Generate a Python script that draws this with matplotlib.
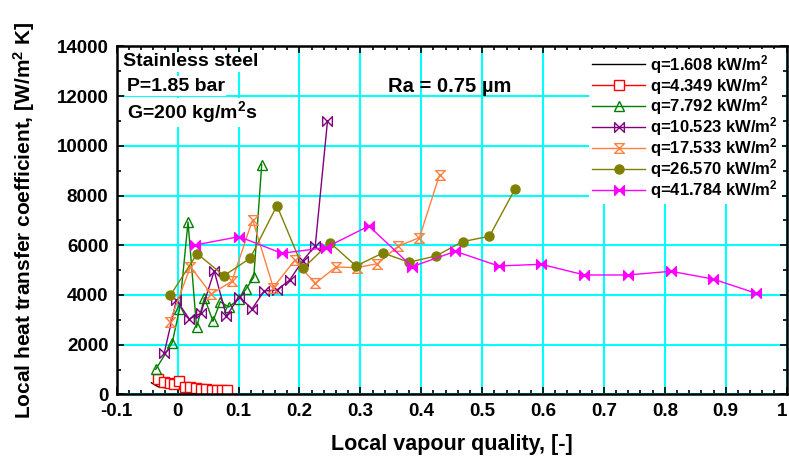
import matplotlib
matplotlib.use("Agg")
import matplotlib.pyplot as plt
from matplotlib.path import Path
from matplotlib.ticker import MultipleLocator
from matplotlib.transforms import ScaledTranslation

plt.rcParams["font.family"] = ["Liberation Sans", "DejaVu Sans"]
plt.rcParams["font.weight"] = "bold"
plt.rcParams["axes.labelweight"] = "bold"
plt.rcParams["mathtext.fontset"] = "custom"
plt.rcParams["mathtext.rm"] = "Liberation Sans:bold"
plt.rcParams["mathtext.bf"] = "Liberation Sans:bold"
plt.rcParams["mathtext.default"] = "bf"

# q = 1.608 kW/m2
x1 = [-0.043, -0.032, -0.021, -0.010, -0.001]
h1 = [470, 310, 270, 310, 258]
# q = 4.349 kW/m2
x2 = [-0.032, -0.023, -0.013, -0.006, 0.003, 0.012, 0.021, 0.030, 0.039,
      0.047, 0.056, 0.064, 0.073, 0.081]
h2 = [607, 512, 446, 418, 552, 310, 285, 258, 230, 205, 177, 177, 177, 177]
# q = 7.792 kW/m2
x3 = [-0.036, -0.009, 0.003, 0.017, 0.031, 0.044, 0.058, 0.070, 0.084,
      0.100, 0.112, 0.125, 0.138]
h3 = [1010, 2080, 3424, 6937, 2700, 3891, 2941, 3730, 3517, 3826, 4229,
      4724, 9243]
# q = 10.523 kW/m2
x4 = [-0.022, -0.002, 0.019, 0.038, 0.060, 0.080, 0.101, 0.122, 0.142,
      0.163, 0.184, 0.205, 0.226, 0.246]
h4 = [1678, 3799, 3034, 3263, 4966, 3155, 3932, 3436, 4161, 4201, 4604,
      5368, 5984, 10989]
# q = 17.533 kW/m2
x5 = [-0.013, 0.021, 0.055, 0.089, 0.123, 0.157, 0.192, 0.226, 0.260,
      0.294, 0.328, 0.362, 0.397, 0.430]
h5 = [2913, 5139, 4040, 4551, 7030, 4300, 5390, 4470, 5127, 5100, 5260,
      5960, 6307, 8829]
# q = 26.570 kW/m2
x6 = [-0.012, 0.032, 0.076, 0.119, 0.163, 0.206, 0.250, 0.293, 0.337,
      0.380, 0.424, 0.468, 0.512, 0.554]
h6 = [3987, 5662, 4777, 5476, 7594, 5074, 6105, 5167, 5690, 5316, 5569,
      6145, 6362, 8265]
# q = 41.784 kW/m2
x7 = [0.029, 0.101, 0.171, 0.243, 0.314, 0.385, 0.456, 0.527, 0.597,
      0.668, 0.739, 0.810, 0.879, 0.950]
h7 = [6012, 6346, 5677, 5904, 6776, 5140, 5757, 5167, 5235, 4805, 4805,
      4953, 4644, 4068]

labels = ["q=1.608 kW/m$^2$", "q=4.349 kW/m$^2$", "q=7.792 kW/m$^2$",
          "q=10.523 kW/m$^2$", "q=17.533 kW/m$^2$", "q=26.570 kW/m$^2$",
          "q=41.784 kW/m$^2$"]

bowtie = Path([(-1, -1), (-1, 1), (1, -1), (1, 1), (-1, -1)],
              [Path.MOVETO, Path.LINETO, Path.LINETO, Path.LINETO, Path.CLOSEPOLY])
hourglass = Path([(-1, 1), (1, 1), (-1, -1), (1, -1), (-1, 1)],
                 [Path.MOVETO, Path.LINETO, Path.LINETO, Path.LINETO, Path.CLOSEPOLY])

fig = plt.figure(figsize=(7.89, 4.63), dpi=100)
ax = fig.add_axes([0.148, 0.148, 0.849, 0.752])

ax.plot(x1, h1, color="black", lw=1, label=labels[0])
ax.plot(x2, h2, color="red", lw=1, marker="s", ms=7, mfc="white",
        mec="red", label=labels[1])
ax.plot(x3, h3, color="green", lw=1, marker="^", ms=7.5, mfc="none",
        mec="green", label=labels[2])
ax.plot(x4, h4, color="purple", lw=1, marker=bowtie, ms=7, mfc="none",
        mec="purple", label=labels[3])
ax.plot(x5, h5, color="#ff8040", lw=1, marker=hourglass, ms=7, mfc="none",
        mec="#ff8040", label=labels[4])
ax.plot(x6, h6, color="olive", lw=1, marker="o", ms=6.5, mfc="olive",
        mec="olive", label=labels[5])
ax.plot(x7, h7, color="magenta", lw=1, marker=bowtie, ms=7, mfc="magenta",
        mec="magenta", label=labels[6])

ax.set_xlim(-0.1, 1.0)
ax.set_ylim(0, 14000)
ax.xaxis.set_major_locator(MultipleLocator(0.1))
ax.xaxis.set_minor_locator(MultipleLocator(0.02))
ax.yaxis.set_major_locator(MultipleLocator(2000))
ax.yaxis.set_minor_locator(MultipleLocator(1000))
ax.xaxis.set_major_formatter(lambda v, p: f"{v:g}")
ax.tick_params(which="both", direction="in", top=True, right=True,
               labelsize=13.5, width=1.2)
ax.tick_params(which="major", length=5, pad=6)
ax.tick_params(which="minor", length=3)
for s in ax.spines.values():
    s.set_linewidth(1.8)
ax.grid(True, which="major", color="cyan", lw=1.5)
ax.set_axisbelow(True)

ax.set_xlabel("Local vapour quality, [-]", fontsize=15.5, labelpad=10)
ax.set_ylabel("Local heat transfer coefficient, [W/m$^2$ K]", fontsize=15,
              labelpad=14)

box = dict(facecolor="white", edgecolor="none", pad=1)
ax.text(0.01, 0.955, "Stainless steel", transform=ax.transAxes, fontsize=14,
        va="center", bbox=box)
ax.text(0.015, 0.885, "P=1.85 bar", transform=ax.transAxes, fontsize=14,
        va="center", bbox=box)
ax.text(0.015, 0.81, "G=200 kg/m$^2$s", transform=ax.transAxes, fontsize=14,
        va="center", bbox=box)
ax.text(0.405, 0.885, "Ra = 0.75 µm", transform=ax.transAxes, fontsize=14.5,
        va="center")

leg = ax.legend(loc="upper right", bbox_to_anchor=(1.005, 1.015), fontsize=12,
                numpoints=1, handlelength=3.2, handletextpad=0.3,
                labelspacing=-0.12, borderpad=0.2, frameon=True,
                facecolor="white", edgecolor="none", framealpha=1)

# keep the last x tick label inside the figure
fig.canvas.draw()
for lbl in ax.get_xticklabels():
    if lbl.get_text() == "1":
        lbl.set_transform(lbl.get_transform() +
                          ScaledTranslation(-5 / 100, 0, fig.dpi_scale_trans))

fig.savefig("out.png", dpi=100)
